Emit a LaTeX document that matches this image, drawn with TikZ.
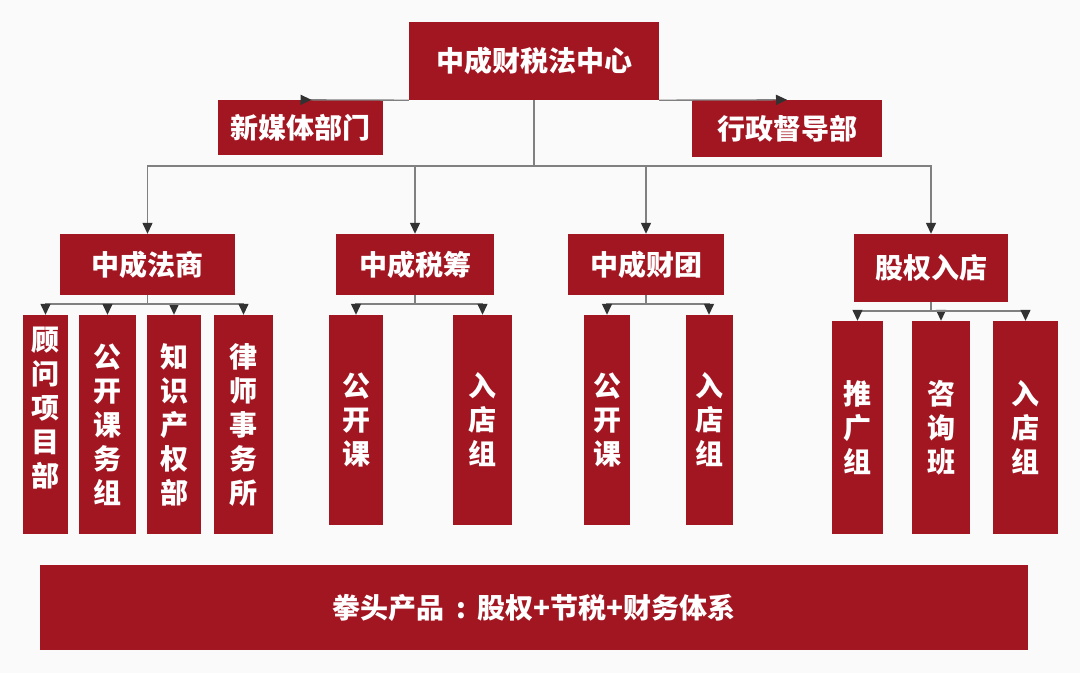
\documentclass[tikz,border=0pt]{standalone}
\usepackage{fontspec}
\setmainfont{Noto Sans CJK SC}
\usetikzlibrary{arrows.meta}
\definecolor{boxred}{RGB}{162,22,34}
\definecolor{bgc}{RGB}{250,250,250}
\definecolor{linec}{RGB}{128,128,128}
\definecolor{tipc}{RGB}{50,50,50}
\tikzset{
  box/.style={fill=boxred, draw=none, text=white, inner sep=0pt, align=center,
    font=\bfseries\fontsize{28}{34}\selectfont},
  vtext/.style={text=white, inner sep=0pt, align=center,
    font=\bfseries\fontsize{28}{34}\selectfont},
  conn/.style={draw=linec, line width=1.3pt,
    -{Triangle[width=10pt,length=11pt,color=tipc,fill=tipc]}},
  rconn/.style={draw=linec, line width=1.3pt,
    -{Triangle[reversed,width=10pt,length=11pt,color=tipc,fill=tipc]}},
  plain/.style={draw=linec, line width=1.3pt}
}
\begin{document}
\begin{tikzpicture}[x=1pt,y=-1pt]
\fill[bgc] (0,0) rectangle (1080,673);
\useasboundingbox (0,0) rectangle (1080,673);

% top level
\node[box, minimum width=250pt, minimum height=78pt] (top) at (534,61) {中成财税法中心};
\node[box, minimum width=165pt, minimum height=55pt] (nm) at (300.5,127.5) {新媒体部门};
\node[box, minimum width=190pt, minimum height=57pt] (hz) at (787,128.5) {行政督导部};

% second level
\node[box, minimum width=175pt, minimum height=61pt] (fs) at (147.5,264.5) {中成法商};
\node[box, minimum width=158pt, minimum height=61pt] (sc) at (415,264.5) {中成税筹};
\node[box, minimum width=156pt, minimum height=61pt] (ct) at (646,264.5) {中成财团};
\node[box, minimum width=154pt, minimum height=68pt] (gq) at (931,268) {股权入店};

% third level
\node[box, minimum width=45pt, minimum height=219pt] (a1) at (45.5,424.5) {};
\node[vtext] (a1t) at (45.5,408) {顾\\问\\项\\目\\部};
\node[box, minimum width=57pt, minimum height=219pt] (a2) at (107.5,424.5) {公\\开\\课\\务\\组};
\node[box, minimum width=54pt, minimum height=219pt] (a3) at (174,424.5) {知\\识\\产\\权\\部};
\node[box, minimum width=59pt, minimum height=219pt] (a4) at (243.5,424.5) {律\\师\\事\\务\\所};

\node[box, minimum width=54pt, minimum height=210pt] (b1) at (356,420) {公\\开\\课};
\node[box, minimum width=59pt, minimum height=210pt] (b2) at (482.5,420) {入\\店\\组};

\node[box, minimum width=46pt, minimum height=210pt] (c1) at (607,420) {公\\开\\课};
\node[box, minimum width=47pt, minimum height=210pt] (c2) at (709,420) {入\\店\\组};

\node[box, minimum width=51pt, minimum height=213pt] (d1) at (857.5,427.5) {推\\广\\组};
\node[box, minimum width=58pt, minimum height=213pt] (d2) at (941,427.5) {咨\\询\\班};
\node[box, minimum width=65pt, minimum height=213pt] (d3) at (1025.5,427.5) {入\\店\\组};

% bottom bar
\node[box, minimum width=988pt, minimum height=85pt] (bar) at (534,607.5) {拳头产品\makebox[1.15em][c]{:}股权+节税+财务体系};

% connectors from top
\draw[rconn] (top.south west) -- (nm.north);
\draw[conn] (top.south east) -- (hz.north);

\coordinate (bus) at (534,166);
\draw[plain] (top.south) -- (bus);
\draw[conn] (bus) -| (fs.north);
\draw[conn] (bus) -| (sc.north);
\draw[conn] (bus) -| (ct.north);
\draw[conn] (bus) -| (gq.north);

% sub connectors
\coordinate (fsb) at (147.5,304);
\draw[plain] (fs.south) -- (fsb);
\draw[conn] (fsb) -| (a1.north);
\draw[conn] (fsb) -| (a2.north);
\draw[conn] (fsb) -| (a3.north);
\draw[conn] (fsb) -| (a4.north);

\coordinate (scb) at (415,304);
\draw[plain] (sc.south) -- (scb);
\draw[conn] (scb) -| (b1.north);
\draw[conn] (scb) -| (b2.north);

\coordinate (ctb) at (646,304);
\draw[plain] (ct.south) -- (ctb);
\draw[conn] (ctb) -| (c1.north);
\draw[conn] (ctb) -| (c2.north);

\coordinate (gqb) at (931,311);
\draw[plain] (gq.south) -- (gqb);
\draw[conn] (gqb) -| (d1.north);
\draw[conn] (gqb) -| (d2.north);
\draw[conn] (gqb) -| (d3.north);
\end{tikzpicture}
\end{document}
